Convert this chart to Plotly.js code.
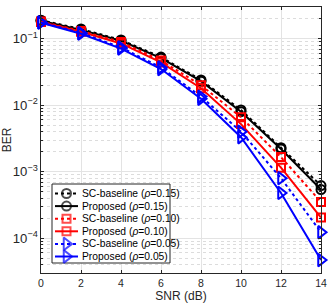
<!DOCTYPE html>
<html><head><meta charset="utf-8">
<script src="https://cdn.plot.ly/plotly-3.0.1.min.js"></script>
<style>html,body{margin:0;padding:0;background:#fff}#c{width:335px;height:307px}</style>
</head><body><div id="c"></div>
<script>
const snr = [0, 2, 4, 6, 8, 10, 12, 14];
const scBase015 = [0.19, 0.14, 0.096, 0.053, 0.024, 0.0085, 0.0023, 0.00062];
const prop015   = [0.186, 0.136, 0.093, 0.051, 0.023, 0.0080, 0.0022, 0.00054];
const scBase010 = [0.181, 0.131, 0.089, 0.047, 0.020, 0.0066, 0.00166, 0.00035];
const prop010   = [0.178, 0.127, 0.085, 0.044, 0.018, 0.0052, 0.00115, 0.000205];
const scBase005 = [0.176, 0.122, 0.074, 0.037, 0.0135, 0.0040, 0.0008, 0.000123];
const prop005   = [0.174, 0.119, 0.071, 0.035, 0.0125, 0.0033, 0.00048, 0.000047];
const names = ['SC-baseline (<i>ρ</i>=0.15)', 'Proposed (<i>ρ</i>=0.15)',
  'SC-baseline (<i>ρ</i>=0.10)', 'Proposed (<i>ρ</i>=0.10)',
  'SC-baseline (<i>ρ</i>=0.05)', 'Proposed (<i>ρ</i>=0.05)'];
const series = [scBase015, prop015, scBase010, prop010, scBase005, prop005];
const colors = ['#000000', '#000000', '#ff0000', '#ff0000', '#0000ff', '#0000ff'];
const dashes = ['dot', 'solid', 'dot', 'solid', 'dot', 'solid'];
const symbols = ['circle-open', 'circle-open', 'square-open', 'square-open', 'triangle-right-open', 'triangle-right-open'];
const sizes = [9, 9, 8, 8, 11, 11];

const W = 335, H = 307, M = {l: 41, r: 14, t: 7, b: 34};
const traces = series.map((y, i) => ({
  x: snr, y: y, name: names[i], type: 'scatter', mode: 'lines+markers', showlegend: false,
  cliponaxis: false,
  line: {color: colors[i], width: 2, dash: dashes[i]},
  marker: {symbol: symbols[i], size: sizes[i], color: colors[i], line: {width: 2, color: colors[i]}}
}));

// custom compact legend drawn on a hidden overlay axis measured in pixels
const box = {x0: 52, x1: 170, y0: 184, y1: 263};
const rowY0 = 193.5, rowStep = 12.6, sampX = [55, 66.5, 78], textX = 80;
traces.push({
  x: [box.x0, box.x1, box.x1, box.x0, box.x0], y: [box.y0, box.y0, box.y1, box.y1, box.y0],
  xaxis: 'x2', yaxis: 'y2', mode: 'lines', fill: 'toself', fillcolor: '#ffffff',
  line: {color: '#262626', width: 1}, showlegend: false, hoverinfo: 'skip'
});
const annotations = [];
names.forEach((n, i) => {
  const yy = rowY0 + i * rowStep;
  traces.push({
    x: sampX, y: [yy, yy, yy], xaxis: 'x2', yaxis: 'y2', mode: 'lines+markers', showlegend: false,
    line: {color: colors[i], width: 2, dash: dashes[i]},
    marker: {symbol: symbols[i], size: [0, sizes[i], 0], color: colors[i], line: {width: 2, color: colors[i]}}
  });
  annotations.push({xref: 'x2', yref: 'y2', x: textX, y: yy, text: n, showarrow: false,
    xanchor: 'left', yanchor: 'middle', font: {family: 'Liberation Sans, Arial, sans-serif', size: 10.3, color: '#000'}});
});

const font = {family: 'Liberation Sans, Arial, sans-serif', size: 10.5, color: '#262626'};
const layout = {
  width: W, height: H, margin: M,
  paper_bgcolor: '#fff', plot_bgcolor: '#fff',
  font: font, showlegend: false, annotations: annotations,
  xaxis: {
    range: [0, 14], dtick: 2, tick0: 0,
    showgrid: true, gridcolor: '#e3e3e3', gridwidth: 1,
    showline: true, linecolor: '#262626', linewidth: 1, mirror: 'ticks',
    ticks: 'inside', ticklen: 3, tickcolor: '#262626', zeroline: false,
    title: {text: 'SNR (dB)', font: {family: font.family, size: 12, color: '#262626'}, standoff: 3}
  },
  yaxis: {
    type: 'log', range: [Math.log10(3e-5), Math.log10(0.3)],
    dtick: 1, exponentformat: 'power',
    showgrid: true, gridcolor: '#e3e3e3', gridwidth: 1,
    showline: true, linecolor: '#262626', linewidth: 1, mirror: 'ticks',
    ticks: 'inside', ticklen: 3, tickcolor: '#262626',
    minor: {dtick: 'D1', showgrid: true, gridcolor: '#dcdcdc', griddash: 'dot', ticks: 'inside', ticklen: 2, tickcolor: '#262626'},
    zeroline: false,
    title: {text: 'BER', font: {family: font.family, size: 12, color: '#262626'}, standoff: 3}
  },
  xaxis2: {overlaying: 'x', anchor: 'y2', range: [M.l, W - M.r], visible: false, fixedrange: true},
  yaxis2: {overlaying: 'y', anchor: 'x2', range: [H - M.b, M.t], visible: false, fixedrange: true}
};
Plotly.newPlot('c', traces, layout, {staticPlot: true, displayModeBar: false});
</script></body></html>
